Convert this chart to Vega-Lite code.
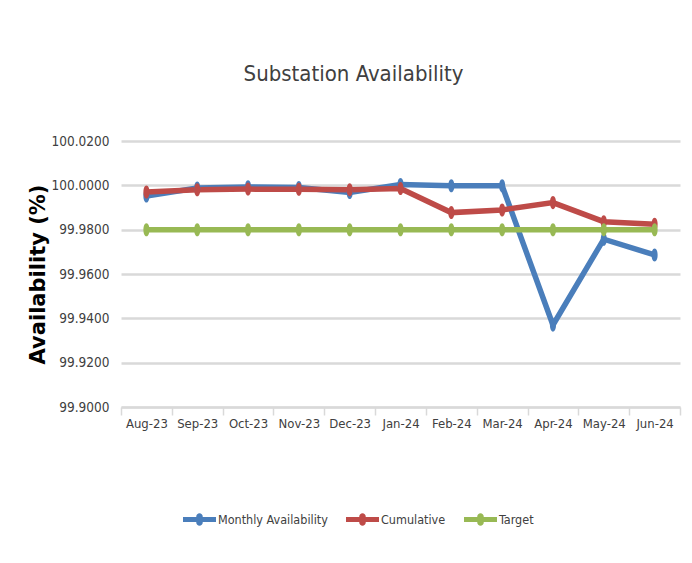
{
  "$schema": "https://vega.github.io/schema/vega-lite/v6.json",
  "width": 559,
  "height": 266,
  "autosize": {"type": "none"},
  "padding": {"left": 121, "top": 141, "right": 12, "bottom": 156},
  "background": "white",
  "title": {
    "text": "Substation Availability",
    "font": "DejaVu Sans Condensed",
    "fontSize": 22,
    "fontWeight": "normal",
    "color": "#404040",
    "anchor": "middle",
    "dx": -47,
    "offset": 48
  },
  "config": {
    "view": {"stroke": null},
    "font": "DejaVu Sans Condensed"
  },
  "data": {
    "values": [
      {"month": "Aug-23", "series": "Monthly Availability", "value": 99.9952},
      {"month": "Sep-23", "series": "Monthly Availability", "value": 99.9988},
      {"month": "Oct-23", "series": "Monthly Availability", "value": 99.9993},
      {"month": "Nov-23", "series": "Monthly Availability", "value": 99.9990},
      {"month": "Dec-23", "series": "Monthly Availability", "value": 99.9968},
      {"month": "Jan-24", "series": "Monthly Availability", "value": 100.0004},
      {"month": "Feb-24", "series": "Monthly Availability", "value": 99.9998},
      {"month": "Mar-24", "series": "Monthly Availability", "value": 99.9998},
      {"month": "Apr-24", "series": "Monthly Availability", "value": 99.9370},
      {"month": "May-24", "series": "Monthly Availability", "value": 99.9757},
      {"month": "Jun-24", "series": "Monthly Availability", "value": 99.9686},
      {"month": "Aug-23", "series": "Cumulative", "value": 99.9970},
      {"month": "Sep-23", "series": "Cumulative", "value": 99.9980},
      {"month": "Oct-23", "series": "Cumulative", "value": 99.9983},
      {"month": "Nov-23", "series": "Cumulative", "value": 99.9982},
      {"month": "Dec-23", "series": "Cumulative", "value": 99.9980},
      {"month": "Jan-24", "series": "Cumulative", "value": 99.9986},
      {"month": "Feb-24", "series": "Cumulative", "value": 99.9877},
      {"month": "Mar-24", "series": "Cumulative", "value": 99.9889},
      {"month": "Apr-24", "series": "Cumulative", "value": 99.9922},
      {"month": "May-24", "series": "Cumulative", "value": 99.9836},
      {"month": "Jun-24", "series": "Cumulative", "value": 99.9824},
      {"month": "Aug-23", "series": "Target", "value": 99.98},
      {"month": "Sep-23", "series": "Target", "value": 99.98},
      {"month": "Oct-23", "series": "Target", "value": 99.98},
      {"month": "Nov-23", "series": "Target", "value": 99.98},
      {"month": "Dec-23", "series": "Target", "value": 99.98},
      {"month": "Jan-24", "series": "Target", "value": 99.98},
      {"month": "Feb-24", "series": "Target", "value": 99.98},
      {"month": "Mar-24", "series": "Target", "value": 99.98},
      {"month": "Apr-24", "series": "Target", "value": 99.98},
      {"month": "May-24", "series": "Target", "value": 99.98},
      {"month": "Jun-24", "series": "Target", "value": 99.98}
    ]
  },
  "encoding": {
    "x": {
      "field": "month",
      "type": "ordinal",
      "sort": null,
      "scale": {"type": "band", "paddingInner": 0, "paddingOuter": 0},
      "axis": {
        "title": null,
        "labelAngle": 0,
        "labelFont": "DejaVu Sans Condensed",
        "labelFontSize": 13,
        "labelColor": "#404040",
        "labelPadding": 2,
        "domainColor": "#d9d9d9",
        "domainWidth": 2,
        "tickColor": "#d9d9d9",
        "tickWidth": 1.5,
        "tickSize": 8,
        "tickBand": "extent",
        "grid": false
      }
    },
    "y": {
      "field": "value",
      "type": "quantitative",
      "scale": {"domain": [99.9, 100.02], "nice": false, "zero": false},
      "axis": {
        "title": "Availability  (%)",
        "titleFont": "DejaVu Sans",
        "titleFontSize": 21,
        "titleFontWeight": "bold",
        "titleColor": "#000000",
        "titlePadding": 3,
        "values": [99.9, 99.92, 99.94, 99.96, 99.98, 100.0, 100.02],
        "format": ".4f",
        "labelFont": "DejaVu Sans Condensed",
        "labelFontSize": 13.5,
        "labelColor": "#404040",
        "labelPadding": 12,
        "domain": false,
        "ticks": false,
        "gridColor": "#d9d9d9",
        "gridWidth": 2.5
      }
    },
    "color": {
      "field": "series",
      "type": "nominal",
      "sort": null,
      "scale": {
        "domain": ["Monthly Availability", "Cumulative", "Target"],
        "range": ["#4a7ebb", "#be4b48", "#98b954"]
      },
      "legend": {
        "title": null,
        "orient": "none",
        "direction": "horizontal",
        "legendX": 62,
        "legendY": 362,
        "padding": 0,
        "symbolType": "M-1,-0.15H-0.2C-0.2,-0.45 0.2,-0.45 0.2,-0.15H1V0.15H0.2C0.2,0.45 -0.2,0.45 -0.2,0.15H-1Z",
        "symbolSize": 1089,
        "symbolStrokeWidth": 0,
        "labelFont": "DejaVu Sans Condensed",
        "labelFontSize": 12.5,
        "labelColor": "#404040",
        "labelOffset": 2,
        "columnPadding": 18
      }
    }
  },
  "layer": [
    {"mark": {"type": "line", "strokeWidth": 5.5}},
    {"mark": {"type": "point", "filled": true, "opacity": 1, "size": 170, "shape": "M0,-1C0.62,-1 0.62,1 0,1C-0.62,1 -0.62,-1 0,-1Z"}}
  ]
}
